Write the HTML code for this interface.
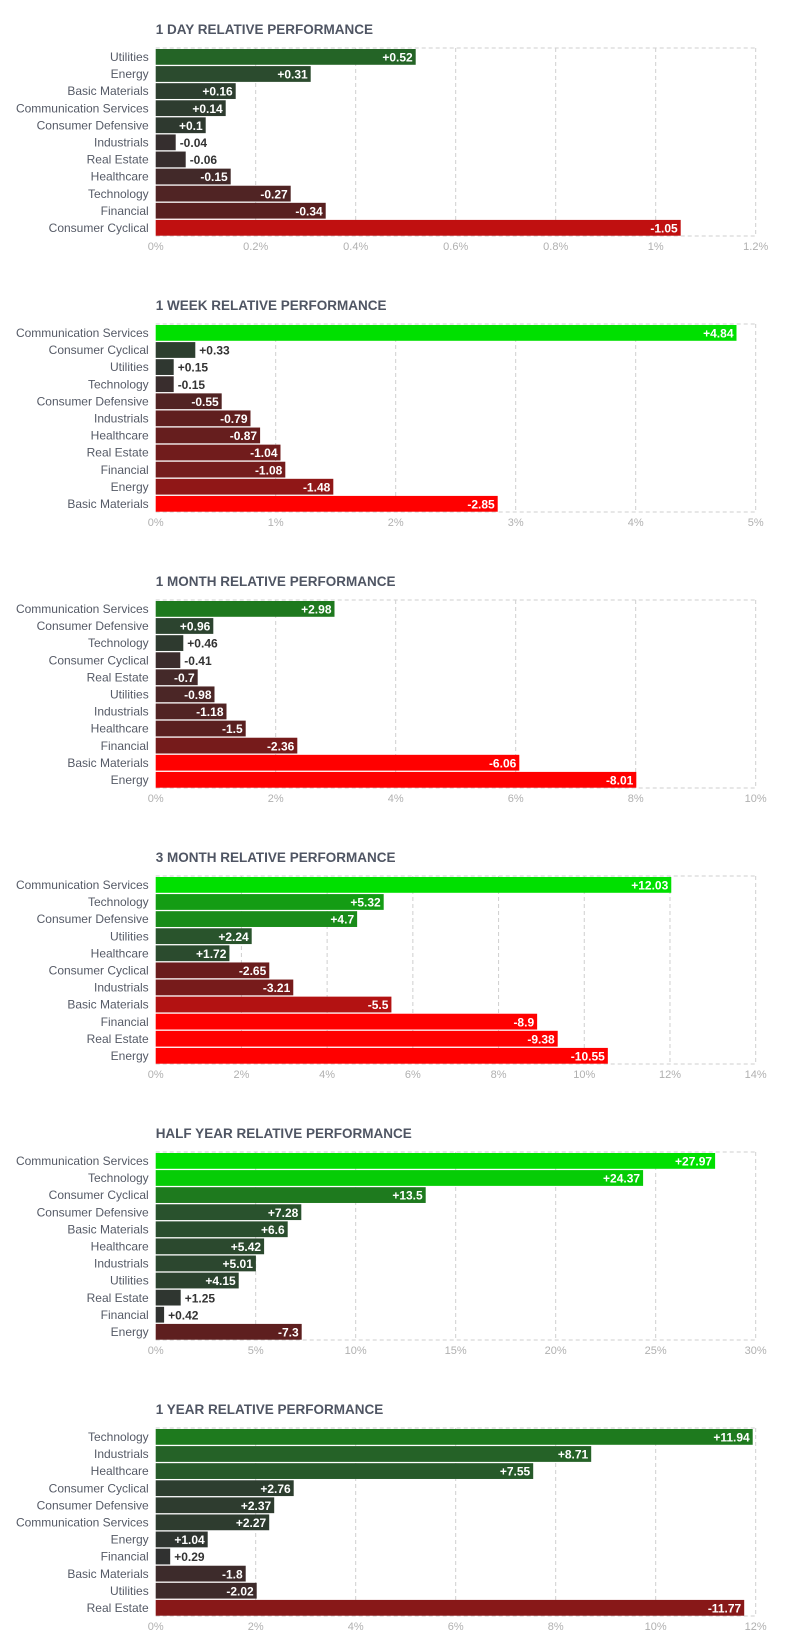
<!DOCTYPE html>
<html><head><meta charset="utf-8">
<style>
body{margin:0;background:#fff;width:796px;height:1651px;overflow:hidden;font-family:"Liberation Sans",sans-serif;}
svg{display:block}
</style></head>
<body>
<svg id="chart" width="796" height="1651" xmlns="http://www.w3.org/2000/svg"></svg>
<script>
const titles = ["1 DAY RELATIVE PERFORMANCE","1 WEEK RELATIVE PERFORMANCE","1 MONTH RELATIVE PERFORMANCE","3 MONTH RELATIVE PERFORMANCE","HALF YEAR RELATIVE PERFORMANCE","1 YEAR RELATIVE PERFORMANCE"];
const dayCats = ["Utilities","Energy","Basic Materials","Communication Services","Consumer Defensive","Industrials","Real Estate","Healthcare","Technology","Financial","Consumer Cyclical"];
const dayVals = [0.52,0.31,0.16,0.14,0.1,-0.04,-0.06,-0.15,-0.27,-0.34,-1.05];
const dayTicks = ["0%","0.2%","0.4%","0.6%","0.8%","1%","1.2%"];
const weekCats = ["Communication Services","Consumer Cyclical","Utilities","Technology","Consumer Defensive","Industrials","Healthcare","Real Estate","Financial","Energy","Basic Materials"];
const weekVals = [4.84,0.33,0.15,-0.15,-0.55,-0.79,-0.87,-1.04,-1.08,-1.48,-2.85];
const weekTicks = ["0%","1%","2%","3%","4%","5%"];
const monthCats = ["Communication Services","Consumer Defensive","Technology","Consumer Cyclical","Real Estate","Utilities","Industrials","Healthcare","Financial","Basic Materials","Energy"];
const monthVals = [2.98,0.96,0.46,-0.41,-0.7,-0.98,-1.18,-1.5,-2.36,-6.06,-8.01];
const monthTicks = ["0%","2%","4%","6%","8%","10%"];
const q3Cats = ["Communication Services","Technology","Consumer Defensive","Utilities","Healthcare","Consumer Cyclical","Industrials","Basic Materials","Financial","Real Estate","Energy"];
const q3Vals = [12.03,5.32,4.7,2.24,1.72,-2.65,-3.21,-5.5,-8.9,-9.38,-10.55];
const q3Ticks = ["0%","2%","4%","6%","8%","10%","12%","14%"];
const halfCats = ["Communication Services","Technology","Consumer Cyclical","Consumer Defensive","Basic Materials","Healthcare","Industrials","Utilities","Real Estate","Financial","Energy"];
const halfVals = [27.97,24.37,13.5,7.28,6.6,5.42,5.01,4.15,1.25,0.42,-7.3];
const halfTicks = ["0%","5%","10%","15%","20%","25%","30%"];
const yearCats = ["Technology","Industrials","Healthcare","Consumer Cyclical","Consumer Defensive","Communication Services","Energy","Financial","Basic Materials","Utilities","Real Estate"];
const yearVals = [11.94,8.71,7.55,2.76,2.37,2.27,1.04,0.29,-1.8,-2.02,-11.77];
const yearTicks = ["0%","2%","4%","6%","8%","10%","12%"];
const axisMax = [1.2,5,10,14,30,12];
const colorScale = [1.4,2.8,6,8,27,24];

const charts = [
 [dayCats,dayVals,dayTicks],[weekCats,weekVals,weekTicks],[monthCats,monthVals,monthTicks],
 [q3Cats,q3Vals,q3Ticks],[halfCats,halfVals,halfTicks],[yearCats,yearVals,yearTicks]];

const NS="http://www.w3.org/2000/svg";
const svg=document.getElementById('chart');
function mk(tag,attrs,parent){const e=document.createElementNS(NS,tag);for(const k in attrs)e.setAttribute(k,attrs[k]);(parent||svg).appendChild(e);return e;}
function lerp(a,b,t){return a.map((v,i)=>Math.round(v+(b[i]-v)*t));}
function grad(stops,t){t=Math.max(0,Math.min(1,t));for(let i=1;i<stops.length;i++){if(t<=stops[i][0]){const s=stops[i-1],e=stops[i];return lerp(s[1],e[1],(t-s[0])/(e[0]-s[0]));}}return stops[stops.length-1][1];}
const gStops=[[0,[48,48,48]],[0.25,[42,79,46]],[0.5,[30,122,30]],[1,[0,224,0]]];
const rStops=[[0,[48,48,48]],[0.25,[90,32,32]],[0.5,[138,24,24]],[0.75,[192,16,16]],[1,[255,0,0]]];
function colorFor(v,s){const c=grad(v>=0?gStops:rStops,Math.abs(v)/s);return `rgb(${c[0]},${c[1]},${c[2]})`;}
function fmt(v){return (v>0?'+':'')+v;}

const X0=155.7, W=600, PH=188, STEP=276;
charts.forEach((ch,ci)=>{
  const [cats,vals,ticks]=ch;
  const max=axisMax[ci];
  const top=48+ci*STEP;
  const xs=v=>X0+Math.abs(v)/max*W;
  const g=mk('g',{});
  
  
  const t=mk('text',{x:X0,y:top-14,'font-size':13.5,'font-weight':'bold',fill:'#4f5563'},g);
  t.textContent=titles[ci];
  
  
  // grid
  ticks.forEach((lab,i)=>{
    const x=X0+i*W/(ticks.length-1);
    if(i>0){const l=mk('line',{x1:x,x2:x,y1:top,y2:top+PH,stroke:'#cfcfcf','stroke-dasharray':'4,3','stroke-width':1},g);
    
    }
    const tl=mk('text',{x:x,y:top+PH+14,'font-size':11,fill:'#b0b0b0','text-anchor':'middle'},g);
    tl.textContent=lab;
    
    
  });
  [[X0,top,X0+W,top],[X0,top+PH,X0+W,top+PH]].forEach(a=>{
    const l=mk('line',{x1:a[0],y1:a[1],x2:a[2],y2:a[3],stroke:'#cfcfcf','stroke-dasharray':'4,3'},g);
    
    
  });
  const rowH=PH/cats.length;
  cats.forEach((c,i)=>{
    const y=top+i*rowH+1;
    const v=vals[i];
    const w=xs(v)-X0;
    const r=mk('rect',{x:X0,y:y,width:w,height:rowH-1.3,fill:colorFor(v,colorScale[ci])},g);
    
    
    const lb=mk('text',{x:X0-7,y:y+rowH/2+3.5,'font-size':12,fill:'#555a66','text-anchor':'end'},g);
    lb.textContent=c;
    
    
    const vt=mk('text',{y:y+rowH/2+4,'font-size':12,'font-weight':'bold'},g);
    vt.textContent=fmt(v);
    
    
    const tw=vt.getComputedTextLength();
    if(w>=tw+17){vt.setAttribute('x',X0+w-3);vt.setAttribute('text-anchor','end');vt.setAttribute('fill','#fff');}
    else{vt.setAttribute('x',X0+w+4);vt.setAttribute('fill','#333');}
  });
});
</script>
</body></html>
